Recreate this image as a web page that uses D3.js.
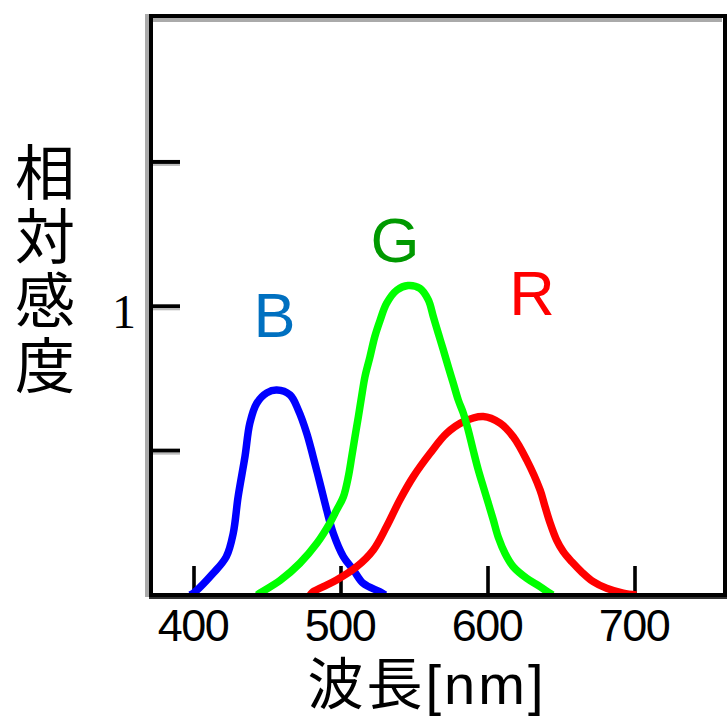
<!DOCTYPE html>
<html>
<head>
<meta charset="utf-8">
<script src="https://cdn.jsdelivr.net/npm/d3@7/dist/d3.min.js"></script>
<style>
  html, body { margin: 0; padding: 0; background: #fff; }
  svg { display: block; }
</style>
</head>
<body>
<div id="chart"></div>
<script>
// ---- data (wavelength nm, relative sensitivity) ----
const blueWavelengths = [397, 399.5, 413, 422, 426.7, 430, 434.7, 438, 442.7, 449.5, 456.3, 465.3, 471, 476.7, 481, 485.7, 490.3, 494.8, 501.6, 508.4, 515.2, 526.5, 530];
const blueValues      = [0, 0.006, 0.075, 0.133, 0.214, 0.34, 0.48, 0.595, 0.664, 0.70, 0.71, 0.693, 0.64, 0.56, 0.48, 0.387, 0.294, 0.213, 0.133, 0.087, 0.04, 0.011, 0];

const greenWavelengths = [443, 445, 458.5, 472, 483.7, 492.5, 497, 501.6, 505, 507.3, 509.5, 511.8, 514, 516.3, 519.7, 523, 526.5, 531, 538, 545.6, 553.7, 559.4, 562.8, 566.2, 569.6, 573, 576.4, 579.8, 583.2, 586.6, 590, 593.4, 596.8, 600.2, 603.6, 607, 611.6, 617.2, 626.3, 635.4, 642, 644];
const greenValues      = [0, 0.007, 0.05, 0.11, 0.18, 0.25, 0.294, 0.34, 0.41, 0.479, 0.548, 0.617, 0.687, 0.756, 0.825, 0.895, 0.95, 1.01, 1.056, 1.072, 1.062, 1.022, 0.964, 0.906, 0.849, 0.79, 0.733, 0.675, 0.63, 0.57, 0.50, 0.433, 0.375, 0.318, 0.26, 0.2, 0.144, 0.098, 0.058, 0.029, 0.006, 0];

const redWavelengths = [479, 481, 488, 497, 510.7, 522, 531, 540, 549.2, 560.5, 571.9, 583.2, 596.8, 608.2, 617.2, 626.3, 635.4, 638.8, 642.2, 646.7, 651.2, 657, 663.7, 671.6, 680.7, 692, 701];
const redValues      = [0, 0.011, 0.029, 0.052, 0.098, 0.156, 0.237, 0.329, 0.41, 0.49, 0.56, 0.60, 0.618, 0.595, 0.548, 0.468, 0.364, 0.306, 0.25, 0.19, 0.15, 0.115, 0.08, 0.046, 0.023, 0.006, 0];

const seriesNames = ["B", "R", "G"];           // draw order
const xTickValues = [400, 500, 600, 700];
const xTickLabels = ["400", "500", "600", "700"];
const yTickValues = [0.5, 1, 1.5];
const yTickLabels = ["", "1", ""];
const yTitle = "相対感度";
const xTitle = "波長[nm]";

// ---- layout ----
const W = 728, H = 717;
const x = d3.scaleLinear().domain([400, 700]).range([194, 635]);
const y = d3.scaleLinear().domain([0, 2]).range([595, 17.6]);
const frame = { left: 151, right: 725, top: 16, bottom: 595 };

const svg = d3.select("#chart").append("svg")
  .attr("width", W).attr("height", H)
  .attr("viewBox", `0 0 ${W} ${H}`);

// shadow lines
svg.append("rect").attr("x", frame.left - 6).attr("y", frame.top - 2)
  .attr("width", 4).attr("height", frame.bottom - frame.top + 4).attr("fill", "#aaaaaa");
svg.append("rect").attr("x", frame.left + 2).attr("y", frame.top + 2)
  .attr("width", frame.right - frame.left - 5).attr("height", 4).attr("fill", "#aaaaaa");

// ticks
const gTicks = svg.append("g");
gTicks.selectAll("rect.yt").data(yTickValues).join("rect")
  .attr("class", "yt")
  .attr("x", frame.left).attr("y", d => y(d) - 2)
  .attr("width", 29).attr("height", 4).attr("fill", "#000");
gTicks.selectAll("rect.yts").data(yTickValues).join("rect")
  .attr("class", "yts")
  .attr("x", frame.left + 2).attr("y", d => y(d) + 2)
  .attr("width", 27).attr("height", 2).attr("fill", "#bbbbbb");
gTicks.selectAll("rect.xt").data(xTickValues).join("rect")
  .attr("class", "xt")
  .attr("x", d => x(d) - 1.8).attr("y", frame.bottom - 29)
  .attr("width", 3.6).attr("height", 29).attr("fill", "#000");

// curves
const series = {
  B: { w: blueWavelengths, v: blueValues, color: "#0000ff" },
  G: { w: greenWavelengths, v: greenValues, color: "#00ff00" },
  R: { w: redWavelengths, v: redValues, color: "#ff0000" }
};
const line = d3.line()
  .x(d => x(d[0])).y(d => y(d[1]))
  .curve(d3.curveCatmullRom.alpha(0.5));

svg.append("g").selectAll("path").data(seriesNames).join("path")
  .attr("d", k => line(series[k].w.map((w, i) => [w, series[k].v[i]])))
  .attr("fill", "none")
  .attr("stroke", k => series[k].color)
  .attr("stroke-width", 7.5)
  .attr("stroke-linejoin", "round");

// frame (black)
svg.append("rect")
  .attr("x", frame.left).attr("y", frame.top)
  .attr("width", frame.right - frame.left).attr("height", frame.bottom - frame.top)
  .attr("fill", "none").attr("stroke", "#000").attr("stroke-width", 4);
svg.append("rect").attr("x", frame.left - 2).attr("y", frame.bottom + 2)
  .attr("width", frame.right - frame.left + 4).attr("height", 2).attr("fill", "#333");

// x tick labels
svg.append("g").selectAll("text").data(xTickValues).join("text")
  .attr("x", d => x(d) - 1).attr("y", 641)
  .attr("text-anchor", "middle")
  .attr("font-family", "Liberation Sans, Arial, sans-serif")
  .attr("font-size", 45).attr("letter-spacing", -1.5)
  .attr("fill", "#000")
  .text((d, i) => xTickLabels[i]);

// y tick labels
svg.append("g").selectAll("text").data(yTickValues).join("text")
  .attr("x", 124).attr("y", d => y(d) + 22)
  .attr("text-anchor", "middle")
  .attr("font-family", "Liberation Serif, serif")
  .attr("font-size", 48)
  .attr("fill", "#000")
  .text((d, i) => yTickLabels[i]);

// series labels
const labelAt = { B: [454.8, 0.894, "#0070c0"], G: [536.7, 1.154, "#009900"], R: [630, 0.969, "#ff0000"] };
svg.append("g").selectAll("text").data(["B", "G", "R"]).join("text")
  .attr("x", k => x(labelAt[k][0])).attr("y", k => y(labelAt[k][1]))
  .attr("text-anchor", "middle")
  .attr("font-family", "Liberation Sans, Arial, sans-serif")
  .attr("font-size", 63)
  .attr("fill", k => labelAt[k][2])
  .text(k => k);

// y title (vertical, one text)
svg.append("text")
  .attr("x", 45).attr("y", 142)
  .attr("writing-mode", "vertical-rl")
  .style("writing-mode", "vertical-rl")
  .attr("font-family", "Noto Sans CJK JP, sans-serif")
  .attr("font-size", 60)
  .attr("letter-spacing", 4.3)
  .attr("fill", "#000")
  .text(yTitle);

// x title
svg.append("text")
  .attr("x", 427).attr("y", 704)
  .attr("text-anchor", "middle")
  .attr("font-family", "Liberation Sans, Noto Sans CJK JP, sans-serif")
  .attr("font-size", 56)
  .attr("letter-spacing", 3)
  .attr("fill", "#000")
  .text(xTitle);
</script>
</body>
</html>
